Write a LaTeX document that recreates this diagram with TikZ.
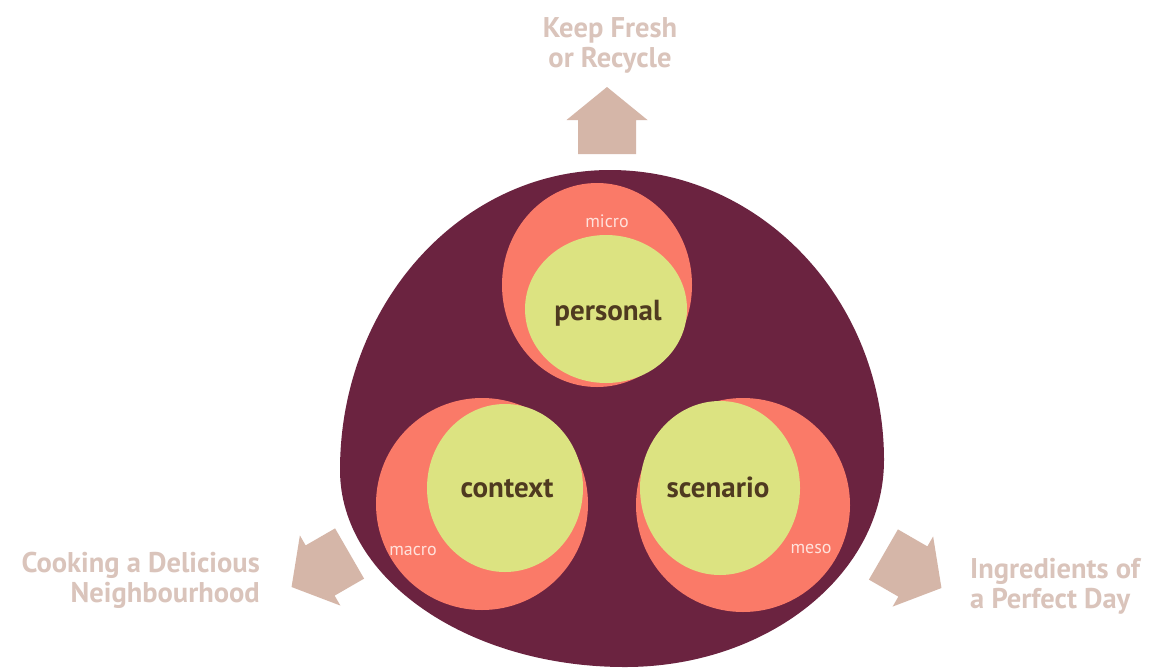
\documentclass[tikz,border=0pt]{standalone}
\usepackage{fontspec}
\setmainfont{PT Sans}
\definecolor{plum}{HTML}{6B2340}
\definecolor{coral}{HTML}{FA7A68}
\definecolor{lime}{HTML}{DCE381}
\definecolor{labelbrown}{HTML}{4F3A20}
\definecolor{arrowtan}{HTML}{D5B6A8}
\definecolor{outertext}{HTML}{DAC4BB}
\definecolor{softwhite}{HTML}{FFE2DC}
\tikzset{
  house/.pic={\fill[arrowtan] (0,-34) -- (40.5,-1) -- (29,-1) -- (29,33) -- (-29,33) -- (-29,-1) -- (-40.5,-1) -- cycle;},
  outerlabel/.style={inner sep=0pt, text=outertext, font=\fontsize{28.5}{29.5}\selectfont\bfseries},
  mainlabel/.style={inner sep=0pt, anchor=base, text=labelbrown, font=\fontsize{29}{32}\selectfont\bfseries},
  scalelabel/.style={inner sep=0pt, anchor=base, text=softwhite, font=\fontsize{18}{20}\selectfont}
}
\begin{document}
\begin{tikzpicture}[x=1pt,y=-1pt]
\useasboundingbox (0,0) rectangle (1153,670);
\fill[white] (0,0) rectangle (1153,670);
% big egg
\fill[plum] (610,170) .. controls (761,170) and (884,300) .. (884,460)
  .. controls (884,574) and (768,667) .. (625,667)
  .. controls (468,667) and (340,579) .. (340,470)
  .. controls (340,304) and (461,170) .. (610,170) -- cycle;
% personal
\fill[coral] (597,285) ellipse [x radius=95, y radius=102];
\fill[lime] (606,309) ellipse [x radius=81, y radius=74];
% context
\fill[coral] (482,504) ellipse [x radius=106, y radius=106];
\fill[lime] (505,488) ellipse [x radius=78, y radius=84];
% scenario
\fill[coral] (743,505) ellipse [x radius=107, y radius=107];
\fill[lime] (720,488) ellipse [x radius=80, y radius=87];
% labels
\node[mainlabel] (personal) at (608,320) {personal};
\node[mainlabel] (context) at (507,497) {context};
\node[mainlabel] (scenario) at (718,497) {scenario};
\node[scalelabel] (micro) at (607,227) {micro};
\node[scalelabel] (macro) at (413,555) {macro};
\node[scalelabel] (meso) at (811,553) {meso};
% arrows
\pic (arrowtop) at (607,121) {house};
\pic[rotate=120] (arrowleft) at (321,570) {house};
\pic[rotate=-120] (arrowright) at (912,571) {house};
% outer texts (base = last line)
\node[outerlabel, anchor=base, align=center] (fresh) at (610,67) {Keep Fresh\\or Recycle};
\node[outerlabel, anchor=base east, align=right] (cooking) at (260,602) {Cooking a Delicious\\Neighbourhood};
\node[outerlabel, anchor=base west, align=left] (ingredients) at (970,608) {Ingredients of\\a Perfect Day};
\end{tikzpicture}
\end{document}
